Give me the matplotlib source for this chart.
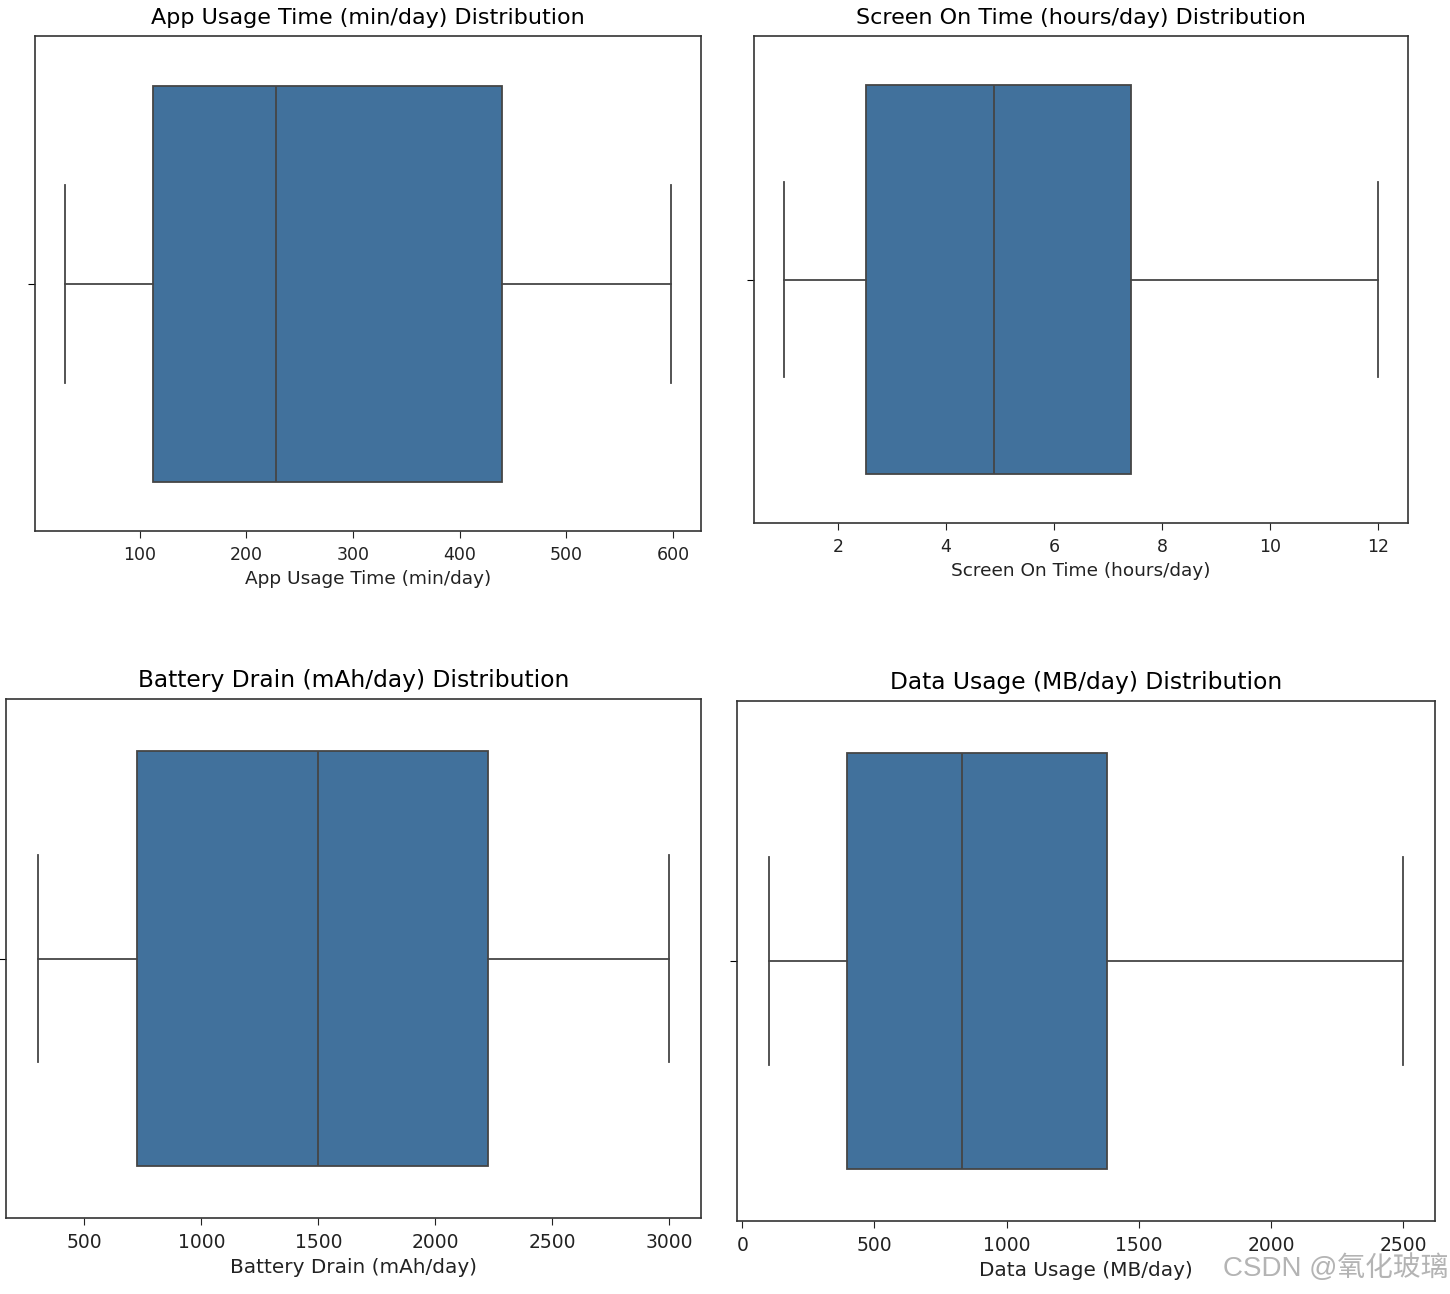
import matplotlib
matplotlib.use("Agg")
import matplotlib.pyplot as plt

# five-number summaries (whislo, q1, med, q3, whishi)
titles = ["App Usage Time (min/day)", "Screen On Time (hours/day)",
          "Battery Drain (mAh/day)", "Data Usage (MB/day)"]
whislo = [30, 1.0, 300, 100]
q1 = [112, 2.52, 725, 395]
med = [228, 4.89, 1500, 831]
q3 = [440, 7.43, 2223, 1381]
whishi = [598, 12.0, 3000, 2500]
xticks = [[100, 200, 300, 400, 500, 600],
          [2, 4, 6, 8, 10, 12],
          [500, 1000, 1500, 2000, 2500, 3000],
          [0, 500, 1000, 1500, 2000, 2500]]

W, H = 1450, 1294
# axes boxes in pixels: left, right, top, bottom (screenshots are not aligned)
boxes = [(35, 701, 36, 531), (754, 1408, 36, 523),
         (6, 701, 699, 1218), (737, 1435, 701, 1221)]
# the four screenshots were pasted at slightly different zoom levels
scale = [1.0, 1.0, 1.08, 1.08]
title_size = [16, 16, 16.8, 16.8]

box_color = "#41719c"
line_color = "#454545"

fig = plt.figure(figsize=(W / 100, H / 100), dpi=100)

for i in range(4):
    l, r, t, b = boxes[i]
    s_ = scale[i]
    ax = fig.add_axes([l / W, 1 - b / H, (r - l) / W, (b - t) / H])
    stats = [{"whislo": whislo[i], "q1": q1[i], "med": med[i],
              "q3": q3[i], "whishi": whishi[i], "fliers": []}]
    ax.bxp(stats, positions=[0], widths=0.8, vert=False, patch_artist=True,
           showfliers=False,
           boxprops=dict(facecolor=box_color, edgecolor=line_color, linewidth=1.3),
           medianprops=dict(color=line_color, linewidth=1.3),
           whiskerprops=dict(color=line_color, linewidth=1.3),
           capprops=dict(color=line_color, linewidth=1.3),
           capwidths=0.4)
    ax.set_ylim(0.5, -0.5)
    lo, hi = whislo[i], whishi[i]
    pad = (hi - lo) * 0.05
    ax.set_xlim(lo - pad, hi + pad)
    ax.set_yticks([0])
    ax.set_yticklabels([""])
    ax.set_xticks(xticks[i])
    ax.tick_params(axis="x", labelsize=12.5 * s_, colors="#222222",
                   length=5, pad=6)
    ax.tick_params(axis="y", length=5)
    ax.set_xlabel(titles[i], fontsize=13.3 * s_, labelpad=4, color="#222222")
    ax.set_title(titles[i] + " Distribution", fontsize=title_size[i], pad=9)
    for s in ax.spines.values():
        s.set_linewidth(1.2)
        s.set_color("#333333")

fig.text(1336 / W, 1 - 1268 / H, "CSDN @氧化玻璃", fontsize=20, color="#b4b4b4",
         ha="center", va="center",
         family=["Liberation Sans", "Noto Sans CJK SC", "DejaVu Sans"])

fig.savefig("out.png", dpi=100)
